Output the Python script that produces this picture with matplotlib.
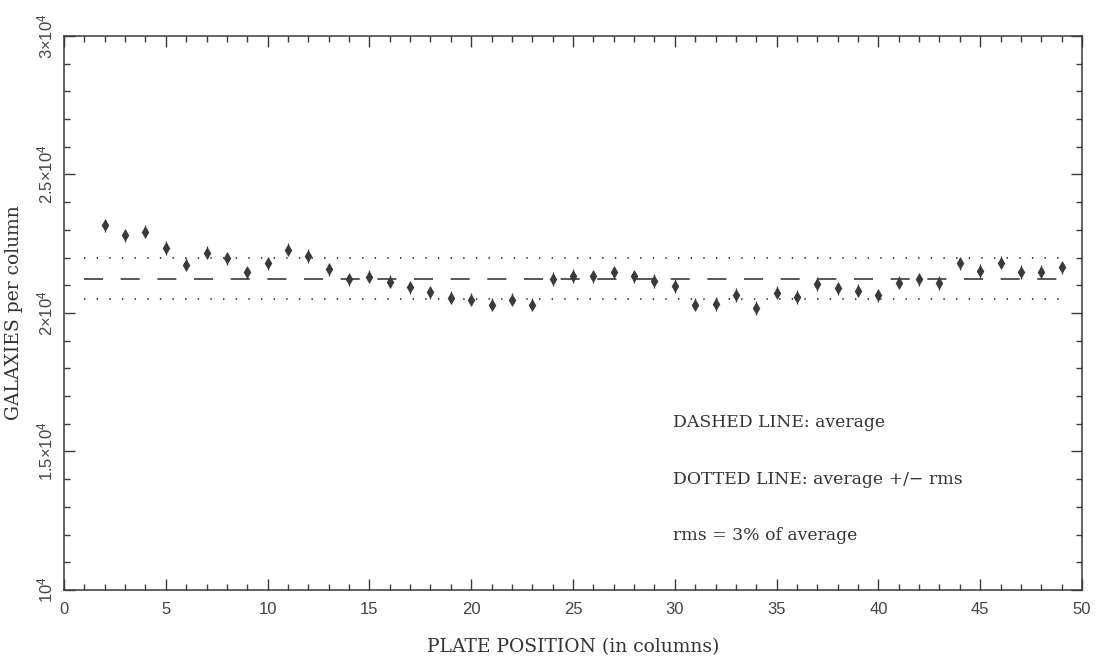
import numpy as np
import matplotlib
matplotlib.use("Agg")
import matplotlib.pyplot as plt
from matplotlib.ticker import MultipleLocator, FixedLocator

# column number and galaxy counts
columns = list(range(2, 50))
counts = [23160, 22800, 22930, 22350, 21740, 22180, 21970, 21470, 21790, 22290,
          22060, 21580, 21220, 21310, 21130, 20930, 20750, 20550, 20480, 20300,
          20480, 20300, 21230, 21340, 21320, 21470, 21320, 21160, 20970, 20300,
          20330, 20650, 20180, 20730, 20580, 21050, 20890, 20800, 20640, 21090,
          21210, 21080, 21790, 21520, 21820, 21480, 21490, 21650]
average = 21230
upper = 21990
lower = 20490
line_span = [1, 49]

ytick_vals = [10000, 15000, 20000, 25000, 30000]
ytick_labels = [r'$10^4$', r'$1.5{\times}10^4$', r'$2{\times}10^4$',
                r'$2.5{\times}10^4$', r'$3{\times}10^4$']

ink = '#3a3a3a'
plt.rcParams['lines.scale_dashes'] = False
plt.rcParams['mathtext.fontset'] = 'custom'
plt.rcParams['mathtext.rm'] = 'Liberation Sans'
plt.rcParams['mathtext.it'] = 'Liberation Sans'

fig = plt.figure(figsize=(11.02, 6.64), dpi=100)
ax = fig.add_axes([64/1102, 1 - 590/664, 1018/1102, 554/664])

# average and +/- rms lines
ax.plot(line_span, [average, average], color=ink, lw=1.2, ls=(0, (13.7, 12.7)))
ax.plot(line_span, [upper, upper], color=ink, lw=1.3, ls=(0, (1.0, 8.1)))
ax.plot(line_span, [lower, lower], color=ink, lw=1.3, ls=(0, (1.0, 8.1)))

# data points
ax.errorbar(columns, counts, yerr=240, fmt='d', ms=5.5, color=ink, mfc=ink,
            mec=ink, elinewidth=0.9, capsize=0)

ax.set_xlim(0, 50)
ax.set_ylim(10000, 30000)
ax.xaxis.set_major_locator(MultipleLocator(5))
ax.xaxis.set_minor_locator(MultipleLocator(1))
ax.yaxis.set_major_locator(FixedLocator(ytick_vals))
ax.yaxis.set_minor_locator(MultipleLocator(1000))
ax.set_yticklabels(ytick_labels, rotation=90, va='center')

ax.tick_params(which='both', direction='in', top=True, right=True, colors=ink,
               labelcolor='#444444', labelsize=12)
ax.tick_params(which='major', length=8, width=1.0)
ax.tick_params(which='minor', length=4, width=1.0)
ax.tick_params(axis='x', pad=9)
ax.tick_params(axis='y', pad=6)
for lab in ax.get_xticklabels() + ax.get_yticklabels():
    lab.set_family('Liberation Sans')
for s in ax.spines.values():
    s.set_color(ink)
    s.set_linewidth(1.1)

serif = 'DejaVu Serif'
ax.set_xlabel('PLATE POSITION (in columns)', family=serif, fontsize=13.5,
              color='#333333', labelpad=15)
ax.set_ylabel('GALAXIES per column', family=serif, fontsize=13.5,
              color='#333333', labelpad=9)

ax.text(0.598, 0.303, 'DASHED LINE: average', transform=ax.transAxes,
        family=serif, fontsize=12.4, color='#333333', va='center')
ax.text(0.598, 0.199, 'DOTTED LINE: average +/\u2212 rms', transform=ax.transAxes,
        family=serif, fontsize=12.4, color='#333333', va='center')
ax.text(0.598, 0.099, 'rms = 3% of average', transform=ax.transAxes,
        family=serif, fontsize=12.4, color='#333333', va='center')

fig.savefig('out.png', dpi=100, facecolor='white')
